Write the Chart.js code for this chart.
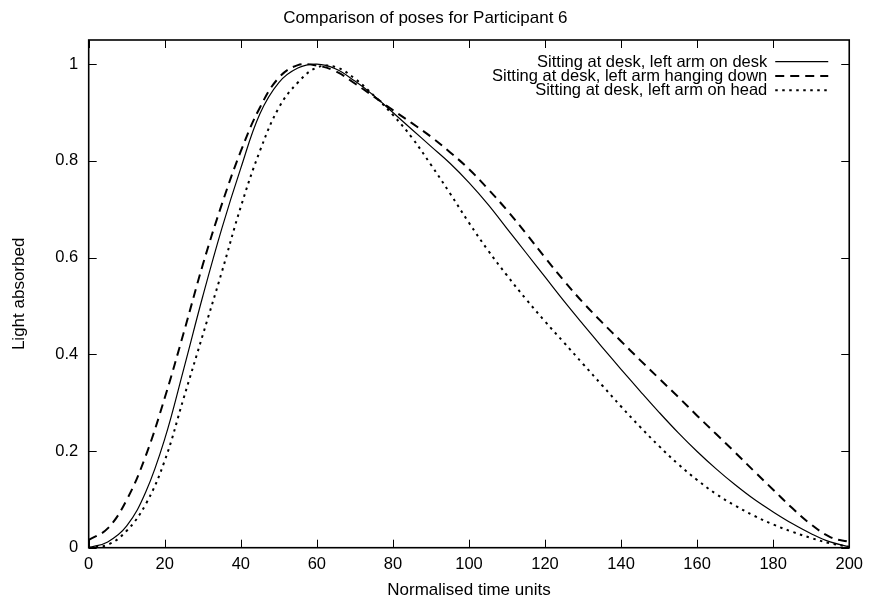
<!DOCTYPE html>
<html>
<head>
<meta charset="utf-8">
<script src="https://cdn.jsdelivr.net/npm/chart.js@4.4.1/dist/chart.umd.min.js"></script>
<style>
  html, body { margin: 0; padding: 0; background: #fff; }
  #wrap { width: 870px; height: 604px; }
</style>
</head>
<body>
<div id="wrap"><canvas id="c" width="870" height="604"></canvas></div>
<script>
// ---- data ----
const chartTitle = "Comparison of poses for Participant 6";
const xTitle = "Normalised time units";
const yTitle = "Light absorbed";
const seriesLabels = [
  "Sitting at desk, left arm on desk",
  "Sitting at desk, left arm hanging down",
  "Sitting at desk, left arm on head"
];
const times = [0,5,10,15,20,25,30,35,40,45,50,55,60,65,70,75,80,85,90,95,100,
               105,110,115,120,125,130,135,140,145,150,155,160,165,170,175,180,185,190,195,200];
const armOnDesk = [0.000,0.012,0.045,0.115,0.225,0.370,0.520,0.660,0.785,0.897,0.962,0.992,1.000,0.990,0.965,0.935,0.900,0.865,0.830,0.795,0.755,
                   0.710,0.660,0.610,0.560,0.510,0.462,0.415,0.369,0.324,0.280,0.238,0.199,0.163,0.130,0.100,0.074,0.050,0.029,0.012,0.002];
const armHanging = [0.016,0.040,0.099,0.190,0.310,0.445,0.585,0.710,0.820,0.910,0.972,0.998,0.997,0.985,0.960,0.933,0.905,0.878,0.850,0.818,0.783,
                    0.742,0.698,0.650,0.600,0.552,0.507,0.466,0.427,0.388,0.350,0.312,0.273,0.235,0.197,0.158,0.120,0.082,0.048,0.022,0.012];
const armOnHead = [0.000,0.006,0.035,0.090,0.180,0.310,0.440,0.570,0.705,0.820,0.910,0.962,0.993,0.994,0.970,0.935,0.895,0.848,0.792,0.733,0.672,
                   0.615,0.563,0.514,0.468,0.424,0.380,0.336,0.292,0.250,0.210,0.173,0.140,0.111,0.087,0.066,0.048,0.033,0.020,0.009,0.002];
const xTicks = [0,20,40,60,80,100,120,140,160,180,200];
const yTicks = [0,0.2,0.4,0.6,0.8,1];
const yTickLabels = ["0","0.2","0.4","0.6","0.8","1"];

// ---- chart ----
Chart.defaults.font.family = "'Liberation Sans', Arial, Helvetica, sans-serif";
Chart.defaults.color = '#000';

function pts(vals) { return times.map((t, i) => ({ x: t, y: vals[i] })); }

const frameAndTicks = {
  id: 'frameAndTicks',
  afterDraw(chart) {
    const { ctx, chartArea: a, scales: { x, y } } = chart;
    ctx.save();
    ctx.strokeStyle = '#000';
    ctx.lineWidth = 1;
    const L = 8;
    ctx.beginPath();
    x.ticks.forEach(t => {
      const px = Math.round(x.getPixelForValue(t.value)) + 0.5;
      ctx.moveTo(px, a.bottom); ctx.lineTo(px, a.bottom - L);
      ctx.moveTo(px, a.top); ctx.lineTo(px, a.top + L);
    });
    y.ticks.forEach(t => {
      const py = Math.round(y.getPixelForValue(t.value)) + 0.5;
      ctx.moveTo(a.left, py); ctx.lineTo(a.left + L, py);
      ctx.moveTo(a.right, py); ctx.lineTo(a.right - L, py);
    });
    ctx.stroke();
    ctx.lineWidth = 1.6;
    ctx.strokeRect(a.left, a.top, a.right - a.left, a.bottom - a.top);
    ctx.restore();
  }
};

const insideLegend = {
  id: 'insideLegend',
  afterDraw(chart) {
    const { ctx, chartArea: a } = chart;
    ctx.save();
    ctx.font = "16.5px 'Liberation Sans', Arial, sans-serif";
    ctx.fillStyle = '#000';
    ctx.textAlign = 'right';
    ctx.textBaseline = 'middle';
    chart.data.datasets.forEach((ds, i) => {
      const yy = a.top + 21.7 + i * 14.3;
      ctx.fillText(ds.label, a.right - 82, yy + 0.5);
      ctx.beginPath();
      ctx.setLineDash(ds.borderDash || []);
      ctx.lineWidth = ds.borderWidth;
      ctx.strokeStyle = ds.borderColor;
      ctx.moveTo(a.right - 74, yy);
      ctx.lineTo(a.right - 21, yy);
      ctx.stroke();
    });
    ctx.restore();
  }
};

new Chart(document.getElementById('c'), {
  type: 'line',
  data: {
    datasets: [
      { label: seriesLabels[0], data: pts(armOnDesk), borderColor: '#000', borderWidth: 1.2, borderDash: [] },
      { label: seriesLabels[1], data: pts(armHanging), borderColor: '#000', borderWidth: 2, borderDash: [9, 6] },
      { label: seriesLabels[2], data: pts(armOnHead), borderColor: '#000', borderWidth: 2, borderDash: [2.5, 4.5] }
    ]
  },
  options: {
    responsive: false,
    animation: false,
    devicePixelRatio: 1,
    layout: { padding: { top: 0, right: 19.3, bottom: 0, left: 0 } },
    elements: {
      point: { radius: 0 },
      line: { tension: 0.4, fill: false }
    },
    plugins: {
      legend: { display: false },
      tooltip: { enabled: false },
      title: {
        display: true,
        text: chartTitle,
        color: '#000',
        font: { size: 17, weight: 'normal' },
        padding: { top: 8, bottom: 11.6 }
      }
    },
    scales: {
      x: {
        type: 'linear',
        min: 0, max: 200,
        afterBuildTicks(s) { s.ticks = xTicks.map(v => ({ value: v })); },
        afterFit(s) { s.height = 56.3; },
        grid: { display: false, drawTicks: false },
        border: { display: false },
        ticks: { padding: 7, font: { size: 16.5 }, color: '#000', maxRotation: 0, autoSkip: false },
        title: { display: true, text: xTitle, font: { size: 17 }, color: '#000', padding: { top: 0, bottom: 3.8 } }
      },
      y: {
        type: 'linear',
        min: 0, max: 1.05,
        afterBuildTicks(s) { s.ticks = yTicks.map(v => ({ value: v })); },
        afterFit(s) { s.width = 88.7; },
        grid: { display: false, drawTicks: false },
        border: { display: false },
        ticks: {
          padding: 10.4, font: { size: 16.5 }, color: '#000', autoSkip: false,
          callback: (v) => { const i = yTicks.indexOf(v); return i >= 0 ? yTickLabels[i] : ''; }
        },
        title: { display: true, text: yTitle, font: { size: 17 }, color: '#000', padding: { top: 9.1, bottom: 0 } }
      }
    }
  },
  plugins: [frameAndTicks, insideLegend]
});
</script>
</body>
</html>
